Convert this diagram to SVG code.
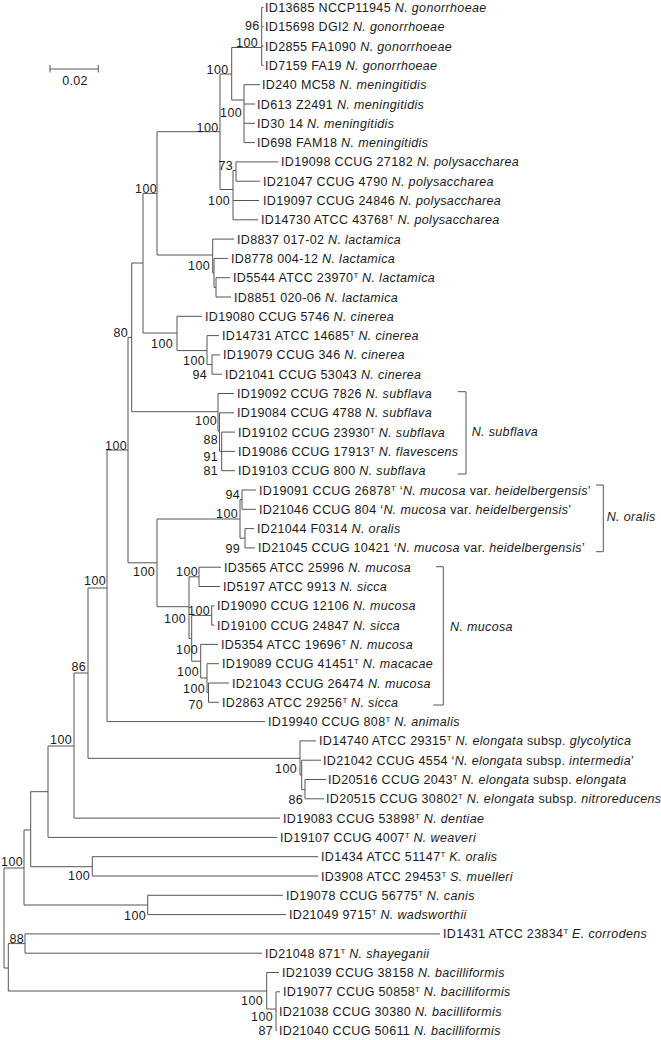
<svg xmlns="http://www.w3.org/2000/svg" width="661" height="1040" viewBox="0 0 661 1040">
<style>
text{font-family:"Liberation Sans",Arial,sans-serif;font-size:12.5px;letter-spacing:0.35px;fill:#1a1a1a}
.i{font-style:italic}
.sup{font-size:8px;baseline-shift:4.5px;letter-spacing:0}
.bs{text-anchor:end}
.br{fill:none;stroke:#555;stroke-width:1}
</style>
<rect width="661" height="1040" fill="#fff"/>
<g id="scalebar">
<path class="br" d="M50 69H98.3M50 65V72.5M98.3 65V72.5"/>
<text x="75" y="84.5" text-anchor="middle">0.02</text>
</g>
<g id="connectors" class="br">
<path d="M4 868V968M4 868H24M24 830V905M24 830H30.7M30.7 791.7V866.7M30.7 791.7H48M48 746V837.4M48 746H74M74 673V818.1M74 818.1H280M48 837.4H277"/>
<path d="M74 673H88M88 588V758.3M88 758.3H300M300 740.9V775M300 740.9H316M300 775H301.7M301.7 760.2V789.7M301.7 760.2H321M301.7 789.7H305M305 779.5V798.8M305 779.5H326M305 798.8H324"/>
<path d="M88 588H107M107 450V721.6M107 721.6H265M107 450H128M128 337.4V562.8M128 337.4H131.7M131.7 263V411.7M131.7 263H143M143 193.4V333M143 193.4H157M157 131.7V255M157 131.7H220M220 74V189.5M220 74H231.7M231.7 47.5V100M231.7 47.5H261.7M261.7 7.5V65.4M261.7 7.5H263.5M261.7 26.8H263.5M261.7 46.1H263.5M261.7 65.4H263.5"/>
<path d="M231.7 100H244M244 84.7V142.6M244 84.7H260M244 104H255M244 123.3H255M244 142.6H255"/>
<path d="M220 189.5H233M233 170.5V219.8M233 170.5H236M236 161.9V181.2M236 161.9H278M236 181.2H260M233 200.5H259M233 219.8H258"/>
<path d="M157 255H212.7M212.7 239.1V272.9M212.7 239.1H234M212.7 272.9H214M214 258.4V287.4M214 258.4H228M214 287.4H216M216 277.7V297M216 277.7H230M216 297H231"/>
<path d="M143 333H177M177 316.3V350.6M177 316.3H202M177 350.6H207M207 335.6V364.5M207 335.6H219M207 364.5H212M212 354.9V374.2M212 354.9H220M212 374.2H222"/>
<path d="M131.7 411.7H218M218 393.5V431M218 393.5H234M218 431H219.5M219.5 412.8V451.4M219.5 412.8H234M219.5 451.4H221.7M221.7 432.1V470.7M221.7 432.1H235M221.7 451.4H235M221.7 470.7H235"/>
<path d="M128 562.8H157M157 519V606.7M157 519H240M240 499.6V538.2M240 499.6H242M242 490V509.3M242 490H256M242 509.3H256M240 538.2H245M245 528.6V547.9M245 528.6H254M245 547.9H255"/>
<path d="M157 606.7H189M189 576.8V638.4M189 576.8H199M199 567.2V586.5M199 567.2H221M199 586.5H220M189 638.4H191.7M191.7 615.4V661.2M191.7 615.4H211.7M211.7 605.8V625.1M211.7 605.8H214.5M211.7 625.1H214.5M191.7 661.2H200.7M200.7 644.4V678M200.7 644.4H218M200.7 678H207M207 663.7V692.6M207 663.7H219M207 692.6H208.5M208.5 683V702.3M208.5 683H229M208.5 702.3H219"/>
<path d="M30.7 866.7H92.3M92.3 856.7V876M92.3 856.7H318M92.3 876H318M24 905H147.7M147.7 895.3V914.6M147.7 895.3H283M147.7 914.6H286"/>
<path d="M4 968H8.3M8.3 943.6V991M8.3 943.6H25M25 933.9V953.2M25 933.9H440M25 953.2H262M8.3 991H266.7M266.7 972.5V1009M266.7 972.5H279M266.7 1009H276M276 991.8V1030.4M276 991.8H280M276 1011.1H277M276 1030.4H277"/>
</g>
<g id="brackets">
<path class="br" d="M457.7 391.7H466V474H457.7"/>
<text x="471.7" y="436" class="i">N. subflava</text>
<path class="br" d="M596 485H603.3V551.7H596"/>
<text x="606.7" y="521" class="i">N. oralis</text>
<path class="br" d="M436 566.7H443.3V705H433.3"/>
<text x="450" y="631" class="i">N. mucosa</text>
</g>
<g id="support">
<text class="bs" x="259.5" y="29.5">96</text>
<text class="bs" x="258" y="46.5">100</text>
<text class="bs" x="228.5" y="73.5">100</text>
<text class="bs" x="242" y="116.5">100</text>
<text class="bs" x="218.5" y="131.5">100</text>
<text class="bs" x="233" y="169.5">73</text>
<text class="bs" x="230" y="204.5">100</text>
<text class="bs" x="157" y="192.5">100</text>
<text class="bs" x="210" y="269.5">100</text>
<text class="bs" x="128" y="336.5">80</text>
<text class="bs" x="173" y="347.5">100</text>
<text class="bs" x="205" y="364.5">100</text>
<text class="bs" x="207" y="378.5">94</text>
<text class="bs" x="217" y="425">100</text>
<text class="bs" x="218" y="443.5">88</text>
<text class="bs" x="218" y="460.5">91</text>
<text class="bs" x="218" y="475">81</text>
<text class="bs" x="127" y="449.5">100</text>
<text class="bs" x="240" y="498.5">94</text>
<text class="bs" x="238" y="517.5">100</text>
<text class="bs" x="240" y="552.5">99</text>
<text class="bs" x="155" y="576">100</text>
<text class="bs" x="198" y="576">100</text>
<text class="bs" x="106" y="585">100</text>
<text class="bs" x="210" y="614.5">100</text>
<text class="bs" x="186" y="622.5">100</text>
<text class="bs" x="198" y="653.5">100</text>
<text class="bs" x="86" y="671">86</text>
<text class="bs" x="199" y="676">100</text>
<text class="bs" x="205" y="692.5">100</text>
<text class="bs" x="203" y="708.5">70</text>
<text class="bs" x="72" y="743.5">100</text>
<text class="bs" x="297" y="772.5">100</text>
<text class="bs" x="303" y="803.5">86</text>
<text class="bs" x="23" y="866">100</text>
<text class="bs" x="90" y="879.5">100</text>
<text class="bs" x="146" y="919.5">100</text>
<text class="bs" x="24" y="942.8">88</text>
<text class="bs" x="263" y="1004.5">100</text>
<text class="bs" x="273" y="1021">100</text>
<text class="bs" x="273" y="1035">87</text>
</g>
<g id="leaf-01"><text x="265" y="12">ID13685 NCCP11945 <tspan class="i">N. gonorrhoeae</tspan></text></g>
<g id="leaf-02"><text x="265" y="31.3">ID15698 DGI2 <tspan class="i">N. gonorrhoeae</tspan></text></g>
<g id="leaf-03"><text x="265" y="50.6">ID2855 FA1090 <tspan class="i">N. gonorrhoeae</tspan></text></g>
<g id="leaf-04"><text x="265" y="69.9">ID7159 FA19 <tspan class="i">N. gonorrhoeae</tspan></text></g>
<g id="leaf-05"><text x="262" y="89.2">ID240 MC58 <tspan class="i">N. meningitidis</tspan></text></g>
<g id="leaf-06"><text x="257" y="108.5">ID613 Z2491 <tspan class="i">N. meningitidis</tspan></text></g>
<g id="leaf-07"><text x="257" y="127.8">ID30 14 <tspan class="i">N. meningitidis</tspan></text></g>
<g id="leaf-08"><text x="257" y="147.1">ID698 FAM18 <tspan class="i">N. meningitidis</tspan></text></g>
<g id="leaf-09"><text x="281" y="166.4">ID19098 CCUG 27182 <tspan class="i">N. polysaccharea</tspan></text></g>
<g id="leaf-10"><text x="263" y="185.7">ID21047 CCUG 4790 <tspan class="i">N. polysaccharea</tspan></text></g>
<g id="leaf-11"><text x="263" y="205">ID19097 CCUG 24846 <tspan class="i">N. polysaccharea</tspan></text></g>
<g id="leaf-12"><text x="261" y="224.3">ID14730 ATCC 43768<tspan class="sup">T</tspan><tspan class="i"> N. polysaccharea</tspan></text></g>
<g id="leaf-13"><text x="237" y="243.6">ID8837 017-02 <tspan class="i">N. lactamica</tspan></text></g>
<g id="leaf-14"><text x="231" y="262.9">ID8778 004-12 <tspan class="i">N. lactamica</tspan></text></g>
<g id="leaf-15"><text x="233" y="282.2">ID5544 ATCC 23970<tspan class="sup">T</tspan><tspan class="i"> N. lactamica</tspan></text></g>
<g id="leaf-16"><text x="234" y="301.5">ID8851 020-06 <tspan class="i">N. lactamica</tspan></text></g>
<g id="leaf-17"><text x="205" y="320.8">ID19080 CCUG 5746 <tspan class="i">N. cinerea</tspan></text></g>
<g id="leaf-18"><text x="222" y="340.1">ID14731 ATCC 14685<tspan class="sup">T</tspan><tspan class="i"> N. cinerea</tspan></text></g>
<g id="leaf-19"><text x="223" y="359.4">ID19079 CCUG 346 <tspan class="i">N. cinerea</tspan></text></g>
<g id="leaf-20"><text x="225" y="378.7">ID21041 CCUG 53043 <tspan class="i">N. cinerea</tspan></text></g>
<g id="leaf-21"><text x="237" y="398">ID19092 CCUG 7826 <tspan class="i">N. subflava</tspan></text></g>
<g id="leaf-22"><text x="237" y="417.3">ID19084 CCUG 4788 <tspan class="i">N. subflava</tspan></text></g>
<g id="leaf-23"><text x="238" y="436.6">ID19102 CCUG 23930<tspan class="sup">T</tspan><tspan class="i"> N. subflava</tspan></text></g>
<g id="leaf-24"><text x="238" y="455.9">ID19086 CCUG 17913<tspan class="sup">T</tspan><tspan class="i"> N. flavescens</tspan></text></g>
<g id="leaf-25"><text x="238" y="475.2">ID19103 CCUG 800 <tspan class="i">N. subflava</tspan></text></g>
<g id="leaf-26"><text x="259" y="494.5">ID19091 CCUG 26878<tspan class="sup">T</tspan> ‘<tspan class="i">N. mucosa</tspan> var. <tspan class="i">heidelbergensis</tspan>’</text></g>
<g id="leaf-27"><text x="259" y="513.8">ID21046 CCUG 804 ‘<tspan class="i">N. mucosa</tspan> var. <tspan class="i">heidelbergensis</tspan>’</text></g>
<g id="leaf-28"><text x="257" y="533.1">ID21044 F0314 <tspan class="i">N. oralis</tspan></text></g>
<g id="leaf-29"><text x="258" y="552.4">ID21045 CCUG 10421 ‘<tspan class="i">N. mucosa</tspan> var. <tspan class="i">heidelbergensis</tspan>’</text></g>
<g id="leaf-30"><text x="224" y="571.7">ID3565 ATCC 25996 <tspan class="i">N. mucosa</tspan></text></g>
<g id="leaf-31"><text x="223" y="591">ID5197 ATCC 9913 <tspan class="i">N. sicca</tspan></text></g>
<g id="leaf-32"><text x="217" y="610.3">ID19090 CCUG 12106 <tspan class="i">N. mucosa</tspan></text></g>
<g id="leaf-33"><text x="217" y="629.6">ID19100 CCUG 24847 <tspan class="i">N. sicca</tspan></text></g>
<g id="leaf-34"><text x="221" y="648.9">ID5354 ATCC 19696<tspan class="sup">T</tspan><tspan class="i"> N. mucosa</tspan></text></g>
<g id="leaf-35"><text x="222" y="668.2">ID19089 CCUG 41451<tspan class="sup">T</tspan><tspan class="i"> N. macacae</tspan></text></g>
<g id="leaf-36"><text x="232" y="687.5">ID21043 CCUG 26474 <tspan class="i">N. mucosa</tspan></text></g>
<g id="leaf-37"><text x="222" y="706.8">ID2863 ATCC 29256<tspan class="sup">T</tspan><tspan class="i"> N. sicca</tspan></text></g>
<g id="leaf-38"><text x="268" y="726.1">ID19940 CCUG 808<tspan class="sup">T</tspan><tspan class="i"> N. animalis</tspan></text></g>
<g id="leaf-39"><text x="319" y="745.4">ID14740 ATCC 29315<tspan class="sup">T</tspan><tspan class="i"> N. elongata</tspan> subsp. <tspan class="i">glycolytica</tspan></text></g>
<g id="leaf-40"><text x="323" y="764.7">ID21042 CCUG 4554 ‘<tspan class="i">N. elongata</tspan> subsp. <tspan class="i">intermedia</tspan>’</text></g>
<g id="leaf-41"><text x="328" y="784">ID20516 CCUG 2043<tspan class="sup">T</tspan><tspan class="i"> N. elongata</tspan> subsp. <tspan class="i">elongata</tspan></text></g>
<g id="leaf-42"><text x="326" y="803.3">ID20515 CCUG 30802<tspan class="sup">T</tspan><tspan class="i"> N. elongata</tspan> subsp. <tspan class="i">nitroreducens</tspan></text></g>
<g id="leaf-43"><text x="283" y="822.6">ID19083 CCUG 53898<tspan class="sup">T</tspan><tspan class="i"> N. dentiae</tspan></text></g>
<g id="leaf-44"><text x="280" y="841.9">ID19107 CCUG 4007<tspan class="sup">T</tspan><tspan class="i"> N. weaveri</tspan></text></g>
<g id="leaf-45"><text x="321" y="861.2">ID1434 ATCC 51147<tspan class="sup">T</tspan><tspan class="i"> K. oralis</tspan></text></g>
<g id="leaf-46"><text x="321" y="880.5">ID3908 ATCC 29453<tspan class="sup">T</tspan><tspan class="i"> S. muelleri</tspan></text></g>
<g id="leaf-47"><text x="286" y="899.8">ID19078 CCUG 56775<tspan class="sup">T</tspan><tspan class="i"> N. canis</tspan></text></g>
<g id="leaf-48"><text x="289" y="919.1">ID21049 9715<tspan class="sup">T</tspan><tspan class="i"> N. wadsworthii</tspan></text></g>
<g id="leaf-49"><text x="443" y="938.4">ID1431 ATCC 23834<tspan class="sup">T</tspan><tspan class="i"> E. corrodens</tspan></text></g>
<g id="leaf-50"><text x="265" y="957.7">ID21048 871<tspan class="sup">T</tspan><tspan class="i"> N. shayeganii</tspan></text></g>
<g id="leaf-51"><text x="282" y="977">ID21039 CCUG 38158 <tspan class="i">N. bacilliformis</tspan></text></g>
<g id="leaf-52"><text x="283" y="996.3">ID19077 CCUG 50858<tspan class="sup">T</tspan><tspan class="i"> N. bacilliformis</tspan></text></g>
<g id="leaf-53"><text x="279" y="1015.6">ID21038 CCUG 30380 <tspan class="i">N. bacilliformis</tspan></text></g>
<g id="leaf-54"><text x="279" y="1034.9">ID21040 CCUG 50611 <tspan class="i">N. bacilliformis</tspan></text></g>
</svg>
